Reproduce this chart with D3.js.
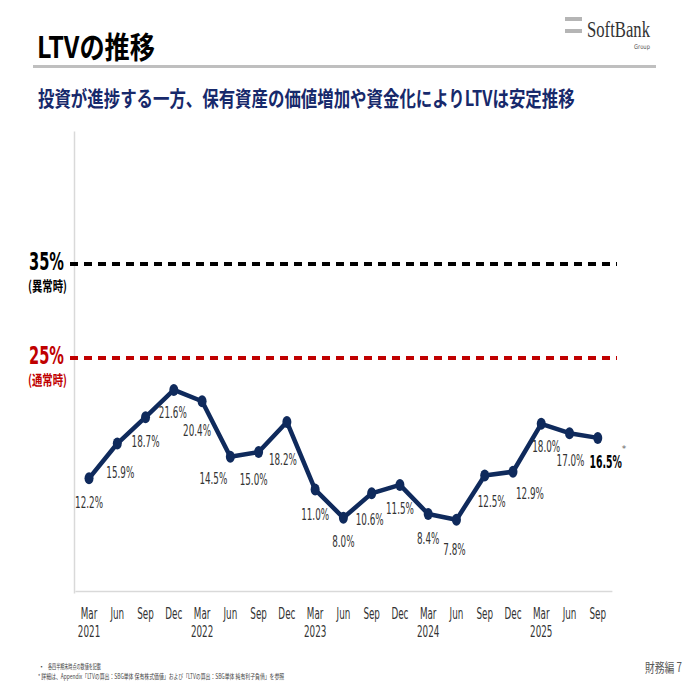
<!DOCTYPE html>
<html>
<head>
<meta charset="utf-8">
<script src="https://cdn.jsdelivr.net/npm/d3@7"></script>
<style>
  body { margin: 0; background: #fff; }
  svg { display: block; }
</style>
</head>
<body>
<svg id="chart" width="686" height="686"></svg>
<script>
// quarter ends, Mar 2021 .. Sep 2025
var months = ["Mar", "Jun", "Sep", "Dec", "Mar", "Jun", "Sep", "Dec", "Mar", "Jun",
  "Sep", "Dec", "Mar", "Jun", "Sep", "Dec", "Mar", "Jun", "Sep"];
var years = ["2021", "", "", "", "2022", "", "", "", "2023", "", "", "", "2024", "", "", "", "2025", "", ""];
var ltv = [12.2, 15.9, 18.7, 21.6, 20.4, 14.5, 15.0, 18.2, 11.0, 8.0, 10.6, 11.5, 8.4, 7.8,
  12.5, 12.9, 18.0, 17.0, 16.5];
var thresholdValues = [35, 25];
var thresholdLabels = ["35%", "25%"];
var thresholdNotes = ["(異常時)", "(通常時)"];
var thresholdColors = ["#000000", "#c00000"];

// where each value label sits relative to its point (text centre)
var labelNudge = [[0, 24], [3, 28], [0, 24], [-1, 22], [-5, 29], [-17, 21], [-5, 27], [-4, 37],
  [0, 24], [0, 23], [-2, 26], [0, 23], [0, 24], [-2, 29], [7, 25], [17, 21], [5, 22], [1, 27], [8, 24]];

var svg = d3.select("#chart");
var navy = "#0f2a5c";
var latin = "'DejaVu Sans', Verdana, sans-serif";
var cjk = "'Noto Sans CJK JP', 'Noto Sans', sans-serif";

// squeeze text horizontally, like the slide (scale around its anchor point)
function fit(sel, w) {
  sel.each(function(d, i) {
    var natural = this.getComputedTextLength();
    var target = typeof w === "function" ? w.call(this, natural, d, i) : w;
    var el = d3.select(this);
    var x0 = +el.attr("x") || 0, y0 = +el.attr("y") || 0;
    el.attr("x", null).attr("y", null)
      .attr("transform", "translate(" + x0 + "," + y0 + ") scale(" + (target / natural) + ",1)");
  });
}
function ratio(k) { return function(n) { return n * k; }; }

// ---- header ----
svg.append("text")
  .attr("x", 37).attr("y", 58)
  .style("font-family", cjk).style("font-weight", "bold").style("font-size", "30px")
  .attr("fill", "#000")
  .text("LTVの推移")
  .call(fit, 118);

svg.append("rect")
  .attr("x", 33).attr("y", 65).attr("width", 623).attr("height", 3)
  .attr("fill", "#bfbfbf");

svg.append("text")
  .attr("x", 38).attr("y", 106)
  .style("font-family", cjk).style("font-weight", "bold").style("font-size", "21px")
  .attr("fill", "#17296b")
  .text("投資が進捗する一方、保有資産の価値増加や資金化によりLTVは安定推移")
  .call(fit, 537);

// logo
var logo = svg.append("g");
logo.append("rect").attr("x", 565).attr("y", 17).attr("width", 17).attr("height", 4).attr("fill", "#b5b5b5");
logo.append("rect").attr("x", 565).attr("y", 29).attr("width", 17).attr("height", 4).attr("fill", "#b5b5b5");
logo.append("text")
  .attr("x", 587).attr("y", 37)
  .style("font-family", "'Liberation Serif', serif").style("font-size", "24px")
  .attr("fill", "#333")
  .text("SoftBank")
  .call(fit, 63);
logo.append("text")
  .attr("x", 650).attr("y", 49).attr("text-anchor", "end")
  .style("font-family", latin).style("font-size", "6.5px")
  .attr("fill", "#555")
  .text("Group")
  .call(fit, 16);

// ---- scales ----
var x = d3.scaleBand()
  .domain(d3.range(ltv.length))
  .range([74.9, 611.9])
  .paddingInner(0).paddingOuter(0);
var y = d3.scaleLinear().domain([0, 49.15]).range([593, 131]);
var cx = function(i) { return x(i) + x.bandwidth() / 2; };

// axes
var yAxis = svg.append("g")
  .attr("transform", "translate(74,0)")
  .call(d3.axisLeft(y).tickValues([]).tickSizeOuter(0));
yAxis.select(".domain").attr("stroke", "#d9d9d9").attr("stroke-width", 1.5);

var xAxis = svg.append("g")
  .attr("transform", "translate(0,591)")
  .call(d3.axisBottom(x).tickSize(0).tickSizeOuter(0).tickFormat(function(i) { return months[i]; }));
xAxis.select(".domain").attr("stroke", "#d9d9d9").attr("stroke-width", 1.5);
xAxis.selectAll(".tick text")
  .attr("y", 28).attr("dy", null)
  .style("font-family", latin).style("font-size", "16px")
  .attr("fill", "#333")
  .call(fit, ratio(0.55));
xAxis.selectAll(".tick")
  .filter(function(i) { return years[i] !== ""; })
  .append("text")
  .attr("y", 46).attr("text-anchor", "middle")
  .style("font-family", latin).style("font-size", "16px")
  .attr("fill", "#333")
  .text(function(i) { return years[i]; })
  .call(fit, ratio(0.55));

// ---- threshold lines ----
var th = svg.append("g").selectAll("g")
  .data(thresholdValues)
  .join("g");
th.append("line")
  .attr("x1", 70).attr("x2", 617)
  .attr("y1", function(d) { return y(d); })
  .attr("y2", function(d) { return y(d); })
  .attr("stroke", function(d, i) { return thresholdColors[i]; })
  .attr("stroke-width", 4)
  .attr("stroke-dasharray", "8,6");
th.append("text")
  .attr("x", 64).attr("y", function(d) { return y(d) + 6; })
  .attr("text-anchor", "end")
  .style("font-family", latin).style("font-size", "24px").style("font-weight", "bold")
  .attr("fill", function(d, i) { return thresholdColors[i]; })
  .text(function(d, i) { return thresholdLabels[i]; })
  .call(fit, 35);
th.append("text")
  .attr("x", 67).attr("y", function(d) { return y(d) + 27; })
  .attr("text-anchor", "end")
  .style("font-family", cjk).style("font-weight", "bold").style("font-size", "14px")
  .attr("fill", function(d, i) { return thresholdColors[i]; })
  .text(function(d, i) { return thresholdNotes[i]; })
  .call(fit, 39);

// ---- LTV line ----
var line = d3.line()
  .x(function(d, i) { return cx(i); })
  .y(function(d) { return y(d); });

svg.append("path")
  .datum(ltv)
  .attr("d", line)
  .attr("fill", "none")
  .attr("stroke", navy)
  .attr("stroke-width", 4.5)
  .attr("stroke-linejoin", "round");

svg.append("g").selectAll("ellipse")
  .data(ltv)
  .join("ellipse")
  .attr("cx", function(d, i) { return cx(i); })
  .attr("cy", function(d) { return y(d); })
  .attr("rx", 4.5).attr("ry", 6)
  .attr("fill", navy);

var last = ltv.length - 1;
svg.append("g").selectAll("text")
  .data(ltv)
  .join("text")
  .attr("x", function(d, i) { return cx(i) + labelNudge[i][0]; })
  .attr("y", function(d, i) { return y(d) + labelNudge[i][1] + 6; })
  .attr("text-anchor", "middle")
  .style("font-family", latin)
  .style("font-size", function(d, i) { return i === last ? "17px" : "16px"; })
  .style("font-weight", function(d, i) { return i === last ? "bold" : "normal"; })
  .attr("fill", function(d, i) { return i === last ? "#000" : "#333"; })
  .text(function(d) { return d.toFixed(1) + "%"; })
  .call(fit, ratio(0.55));

svg.append("text")
  .attr("x", cx(last) + 24).attr("y", y(ltv[last]) + 14)
  .style("font-family", latin).style("font-size", "9px")
  .attr("fill", "#666")
  .text("*");

// ---- footer ----
var foot = svg.append("g")
  .style("font-family", cjk).style("font-size", "7px").attr("fill", "#444");
foot.append("text").attr("x", 38).attr("y", 669).text("・");
foot.append("text").attr("x", 48).attr("y", 669).text("各四半期末時点の数値を記載").call(fit, 53);
foot.append("text").attr("x", 38).attr("y", 679)
  .text("* 詳細は、Appendix「LTVの算出：SBG単体 保有株式価値」および「LTVの算出：SBG単体 純有利子負債」を参照")
  .call(fit, 247);

svg.append("text")
  .attr("x", 682).attr("y", 672).attr("text-anchor", "end")
  .style("font-family", cjk).style("font-size", "13px")
  .attr("fill", "#595959")
  .text("財務編 7")
  .call(fit, 37);
</script>
</body>
</html>
